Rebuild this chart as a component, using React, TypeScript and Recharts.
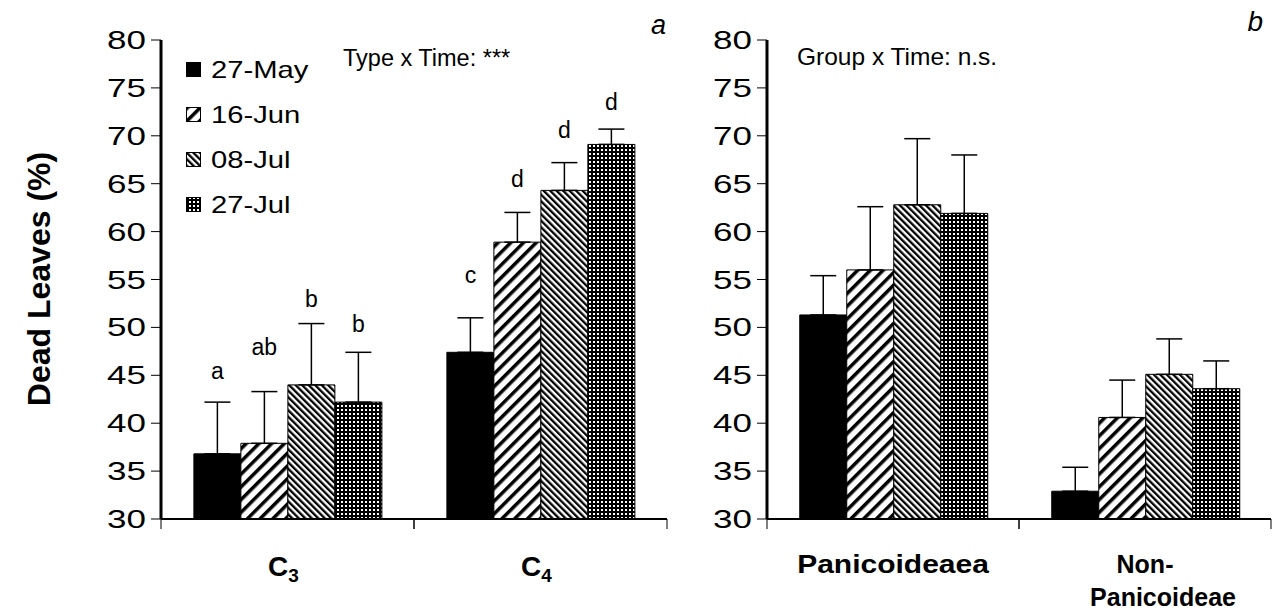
import React from 'react';
import { BarChart, Bar, XAxis, YAxis, ErrorBar, LabelList, Customized } from 'recharts';

const FONT = '"Liberation Sans", Arial, sans-serif';

const seriesKeys = ['may27', 'jun16', 'jul08', 'jul27'];
const seriesNames = ['27-May', '16-Jun', '08-Jul', '27-Jul'];
const seriesFills = ['#000000', 'url(#pJun16)', 'url(#pJul08)', 'url(#pJul27)'];
const yTicks = [30, 35, 40, 45, 50, 55, 60, 65, 70, 75, 80];

// Panel a
const leftCategories = ['C3', 'C4'];
const leftMay27 = [36.8, 47.4];
const leftJun16 = [37.9, 58.9];
const leftJul08 = [44.0, 64.3];
const leftJul27 = [42.2, 69.1];
const leftMay27Err = [5.4, 3.6];
const leftJun16Err = [5.4, 3.1];
const leftJul08Err = [6.4, 2.9];
const leftJul27Err = [5.2, 1.6];
const leftMay27Letters = ['a', 'c'];
const leftJun16Letters = ['ab', 'd'];
const leftJul08Letters = ['b', 'd'];
const leftJul27Letters = ['b', 'd'];
const leftMay27LetterY = [44.6, 54.6];
const leftJun16LetterY = [47.1, 64.7];
const leftJul08LetterY = [52.1, 69.8];
const leftJul27LetterY = [49.5, 72.7];

// Panel b
const rightCategories = ['Panicoideaea', 'Non-Panicoideae'];
const rightMay27 = [51.3, 32.9];
const rightJun16 = [56.0, 40.6];
const rightJul08 = [62.8, 45.1];
const rightJul27 = [61.9, 43.6];
const rightMay27Err = [4.1, 2.5];
const rightJun16Err = [6.6, 3.9];
const rightJul08Err = [6.9, 3.7];
const rightJul27Err = [6.1, 2.9];

function buildRows(cats: string[], means: number[][], errs: number[][], letters?: string[][], letterY?: number[][]) {
  return cats.map((c, i) => {
    const row: any = { cat: c };
    seriesKeys.forEach((k, s) => {
      row[k] = means[s][i];
      row[k + 'Err'] = [0, errs[s][i]];
      if (letters) row[k + 'Let'] = letters[s][i];
      if (letterY) row[k + 'LetY'] = letterY[s][i];
    });
    return row;
  });
}

const leftData = buildRows(
  leftCategories,
  [leftMay27, leftJun16, leftJul08, leftJul27],
  [leftMay27Err, leftJun16Err, leftJul08Err, leftJul27Err],
  [leftMay27Letters, leftJun16Letters, leftJul08Letters, leftJul27Letters],
  [leftMay27LetterY, leftJun16LetterY, leftJul08LetterY, leftJul27LetterY]
);
const rightData = buildRows(
  rightCategories,
  [rightMay27, rightJun16, rightJul08, rightJul27],
  [rightMay27Err, rightJun16Err, rightJul08Err, rightJul27Err]
);

const Y_MIN = 30;

const NumTick = (props: any) => {
  const { x, y, payload } = props;
  return (
    <text
      x={0}
      y={0}
      transform={`translate(${x},${y}) scale(1.4,1)`}
      textAnchor="end"
      dominantBaseline="central"
      fontSize={25}
      fontFamily={FONT}
      fill="#000"
    >
      {payload.value}
    </text>
  );
};

const CatTick = (props: any) => {
  const { x, y, payload } = props;
  const half = payload && payload.offset ? payload.offset : 126;
  const axisY = y - 10;
  const v: string = payload.value;
  let label: any;
  const m = /^C(\d)$/.exec(v);
  if (m) {
    label = (
      <text x={x - 4} y={axisY + 57} textAnchor="middle" fontSize={28} fontWeight="bold" fontFamily={FONT} fill="#000">
        <tspan>C</tspan>
        <tspan fontSize={19} dy={6}>{m[1]}</tspan>
      </text>
    );
  } else if (v.indexOf('-') > 0) {
    const parts = v.split('-');
    label = (
      <text x={x} y={axisY + 54} textAnchor="middle" fontSize={25} fontWeight="bold" fontFamily={FONT} fill="#000">
        <tspan x={x}>{parts[0] + '-'}</tspan>
        <tspan x={x + 18} dy={33}>{parts[1]}</tspan>
      </text>
    );
  } else {
    label = (
      <text
        x={0}
        y={0}
        transform={`translate(${x},${axisY + 54}) scale(1.2,1)`}
        textAnchor="middle"
        fontSize={25}
        fontWeight="bold"
        fontFamily={FONT}
        fill="#000"
      >
        {v}
      </text>
    );
  }
  return (
    <g>
      <line x1={x - half} x2={x - half} y1={axisY} y2={axisY + 10} stroke="#000" strokeWidth={1} />
      <line x1={x + half} x2={x + half} y1={axisY} y2={axisY + 10} stroke="#000" strokeWidth={1} />
      {label}
    </g>
  );
};

const makeLetter = (means: number[], letterYs: number[]) => (props: any) => {
  const { x, y, width, height, value, index } = props;
  if (value == null) return null;
  const mean = means[index];
  const pxPerUnit = height / (mean - Y_MIN);
  const baseY = y + height;
  const ly = baseY - (letterYs[index] - Y_MIN) * pxPerUnit;
  return (
    <text x={x + width / 2} y={ly} textAnchor="middle" fontSize={23} fontFamily={FONT} fill="#000">
      {value}
    </text>
  );
};

const SvgLegend = () => (
  <g fontFamily={FONT} fill="#000">
    {seriesNames.map((n, i) => {
      const cy = 70 + i * 45;
      return (
        <g key={n}>
          <rect x={186.5} y={cy - 7.5} width={14} height={14} fill={seriesFills[i]} stroke="#000" strokeWidth={1} />
          <text x={0} y={0} transform={`translate(211,${cy}) scale(1.27,1)`} dominantBaseline="central" fontSize={23}>
            {n}
          </text>
        </g>
      );
    })}
  </g>
);

const Patterns = () => (
  <svg width={0} height={0} style={{ position: 'absolute' }}>
    <defs>
      <pattern id="pJun16" patternUnits="userSpaceOnUse" width={9} height={9} patternTransform="rotate(45)">
        <rect x={0} y={0} width={9} height={9} fill="#fff" />
        <rect x={0} y={0} width={3.5} height={9} fill="#000" />
      </pattern>
      <pattern id="pJul08" patternUnits="userSpaceOnUse" width={4.6} height={4.6} patternTransform="rotate(-45)">
        <rect x={0} y={0} width={4.6} height={4.6} fill="#fff" />
        <rect x={0} y={0} width={2.3} height={4.6} fill="#000" />
      </pattern>
      <pattern id="pJul27" patternUnits="userSpaceOnUse" width={4} height={4}>
        <rect x={0} y={0} width={4} height={4} fill="#000" />
        <rect x={1} y={1} width={2} height={2} fill="#fff" />
      </pattern>
    </defs>
  </svg>
);

const Panel = (props: {
  data: any[];
  width: number;
  yAxisWidth: number;
  marginRight: number;
  withLetters: boolean;
  letterMeans?: number[][];
  letterYs?: number[][];
  extra: React.ReactNode;
  yLabel?: boolean;
}) => {
  const { data, width, yAxisWidth, marginRight, withLetters, letterMeans, letterYs, extra, yLabel } = props;
  return (
    <BarChart
      width={width}
      height={615}
      data={data}
      margin={{ top: 40, right: marginRight, bottom: 0, left: 0 }}
      barGap={0}
      barCategoryGap="13%"
    >
      <XAxis
        xAxisId="cat"
        dataKey="cat"
        type="category"
        axisLine={{ stroke: '#000', strokeWidth: 2 }}
        tickLine={false}
        tickSize={10}
        tickMargin={0}
        tick={<CatTick />}
        interval={0}
        height={96}
      />
      <XAxis xAxisId="top" orientation="top" height={0} tick={false} tickLine={false} axisLine={{ stroke: '#000', strokeWidth: 3 }} />
      <YAxis
        yAxisId="left"
        domain={[30, 80]}
        ticks={yTicks}
        allowDataOverflow
        width={yAxisWidth}
        axisLine={{ stroke: '#000', strokeWidth: 3 }}
        tickLine={{ stroke: '#000', strokeWidth: 1 }}
        tickSize={10}
        tickMargin={5}
        tick={<NumTick />}
        interval={0}
        label={
          yLabel
            ? {
                content: () => (
                  <text
                    x={0}
                    y={0}
                    transform="translate(50,279) rotate(-90)"
                    textAnchor="middle"
                    fontSize={32}
                    fontWeight="bold"
                    fontFamily={FONT}
                    fill="#000"
                  >
                    Dead Leaves (%)
                  </text>
                ),
              }
            : undefined
        }
      />
      <YAxis yAxisId="right" orientation="right" width={0} domain={[30, 80]} tick={false} tickLine={false} axisLine={{ stroke: '#000', strokeWidth: 3 }} />
      {seriesKeys.map((k, s) => (
        <Bar
          key={k}
          dataKey={k}
          name={seriesNames[s]}
          xAxisId="cat"
          yAxisId="left"
          fill={seriesFills[s]}
          stroke="#000"
          strokeWidth={1}
          isAnimationActive={false}
        >
          <ErrorBar dataKey={k + 'Err'} width={13} stroke="#000" strokeWidth={1.5} direction="y" />
          {withLetters && letterMeans && letterYs ? (
            <LabelList dataKey={k + 'Let'} content={makeLetter(letterMeans[s], letterYs[s])} />
          ) : null}
        </Bar>
      ))}
      <Customized component={() => <g>{extra}</g>} />
    </BarChart>
  );
};

export default function App() {
  return (
    <div style={{ position: 'absolute', left: 0, top: 0, width: 1274, height: 615, background: '#fff' }}>
      <Patterns />
      <div style={{ position: 'absolute', left: 0, top: 0 }}>
        <Panel
          data={leftData}
          width={680}
          yAxisWidth={161}
          marginRight={13}
          withLetters
          letterMeans={[leftMay27, leftJun16, leftJul08, leftJul27]}
          letterYs={[leftMay27LetterY, leftJun16LetterY, leftJul08LetterY, leftJul27LetterY]}
          yLabel
          extra={
            <g fontFamily={FONT} fill="#000">
              <SvgLegend />
              <text x={343} y={66} fontSize={23.5}>Type x Time: ***</text>
              <text x={666} y={34} fontSize={27} fontStyle="italic" textAnchor="end">a</text>
            </g>
          }
        />
      </div>
      <div style={{ position: 'absolute', left: 680, top: 0 }}>
        <Panel
          data={rightData}
          width={594}
          yAxisWidth={87}
          marginRight={3}
          withLetters={false}
          extra={
            <g fontFamily={FONT} fill="#000">
              <text x={117} y={65} fontSize={24.5}>Group x Time: n.s.</text>
              <text x={583} y={31} fontSize={28} fontStyle="italic" textAnchor="end">b</text>
            </g>
          }
        />
      </div>
    </div>
  );
}
